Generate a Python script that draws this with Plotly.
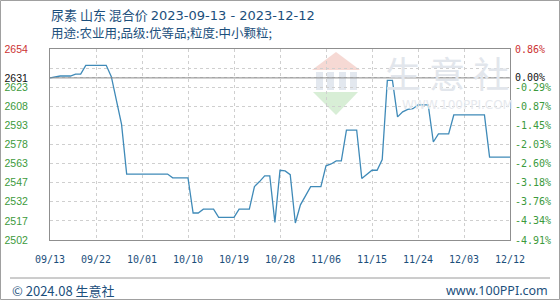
import plotly.graph_objects as go

# ---- data ----
dates = ["2023-09-13", "2023-09-15", "2023-09-17", "2023-09-18", "2023-09-19",
         "2023-09-20", "2023-09-24", "2023-09-25", "2023-09-27", "2023-09-28",
         "2023-10-06", "2023-10-07", "2023-10-10", "2023-10-11", "2023-10-12",
         "2023-10-13", "2023-10-15", "2023-10-16", "2023-10-19", "2023-10-20",
         "2023-10-22", "2023-10-23", "2023-10-24", "2023-10-25", "2023-10-26",
         "2023-10-27", "2023-10-28", "2023-10-29", "2023-10-30", "2023-10-31",
         "2023-11-01", "2023-11-03", "2023-11-05", "2023-11-06", "2023-11-07",
         "2023-11-08", "2023-11-09", "2023-11-10", "2023-11-12", "2023-11-13",
         "2023-11-15", "2023-11-16", "2023-11-17", "2023-11-18", "2023-11-19",
         "2023-11-20", "2023-11-21", "2023-11-22", "2023-11-23", "2023-11-24",
         "2023-11-26", "2023-11-27", "2023-11-28", "2023-11-30", "2023-12-01",
         "2023-12-07", "2023-12-08", "2023-12-12"]
prices = [2631, 2632.5, 2632.5, 2634, 2634,
          2641, 2641, 2632, 2594, 2554.5,
          2554.5, 2551.5, 2551.5, 2523.5, 2523.5,
          2526.5, 2526.5, 2520, 2520, 2526.5,
          2526.5, 2544.5, 2548.5, 2553, 2553,
          2516, 2557.5, 2557, 2554, 2515.5,
          2530, 2544.5, 2544.5, 2561, 2562.5,
          2565, 2565, 2589.5, 2589.5, 2551,
          2557.5, 2557.5, 2566, 2629, 2629,
          2600, 2604, 2606, 2606.5, 2609.5,
          2609.5, 2580, 2586.5, 2586.5, 2601.5,
          2601.5, 2568, 2568]

base_price = 2631
y_min, y_max = 2502, 2654
y_grid = [2502, 2517.2, 2532.4, 2547.6, 2562.8, 2578, 2593.2, 2608.4, 2623.6, 2638.8, 2654]
left_labels = ["2502", "2517", "2532", "2547", "2563", "2578", "2593", "2608", "2623", "", "2654"]
right_labels = ["-4.91%", "-4.34%", "-3.76%", "-3.18%", "-2.60%", "-2.03%", "-1.45%",
                "-0.87%", "-0.29%", "", "0.86%"]
base_left_label = "2631"
base_right_label = "0.00%"

x_ticks = ["2023-09-13", "2023-09-22", "2023-10-01", "2023-10-10", "2023-10-19",
           "2023-10-28", "2023-11-06", "2023-11-15", "2023-11-24", "2023-12-03",
           "2023-12-12"]
x_labels = ["09/13", "09/22", "10/01", "10/10", "10/19", "10/28", "11/06",
            "11/15", "11/24", "12/03", "12/12"]

title_cn = "尿素 山东 混合价 "
title_dates = "2023-09-13 - 2023-12-12"
title2 = "用途:农业用;品级:优等品;粒度:中小颗粒;"
footer_left = "© 2024.08 生意社"
footer_right = "www.100PPI.com"

# ---- layout constants ----
W, H = 560, 300
ML, MR, MT, MB = 50, 50, 49, 60
PW, PH = W - ML - MR, H - MT - MB

RED, GREEN, BLACK = "#cc3333", "#3c9a3c", "#111111"
TXT = "#1c4f7c"


def px(x):
    return (x - ML) / PW


def py(y):
    return (H - MB - y) / PH


def colored(lbls, top_color):
    out = []
    for i, t in enumerate(lbls):
        c = top_color if i == len(lbls) - 1 else GREEN
        out.append(f"<span style='color:{c}'>{t}</span>" if t else "")
    return out


tickvals = y_grid + [base_price]
lt = colored(left_labels, RED) + [f"<span style='color:{BLACK}'>{base_left_label}</span>"]
rt = colored(right_labels, RED) + [f"<span style='color:{BLACK}'>{base_right_label}</span>"]

fig = go.Figure()
fig.add_trace(go.Scatter(x=dates, y=prices, mode="lines",
                         line=dict(color="#3f8ab8", width=1.3),
                         hoverinfo="skip", showlegend=False))
fig.add_trace(go.Scatter(x=[dates[0]], y=[prices[0]], yaxis="y2", mode="markers",
                         marker=dict(opacity=0), hoverinfo="skip", showlegend=False))

grid = dict(showgrid=True, gridcolor="#cfcfcf", griddash="dot", gridwidth=1)

fig.update_layout(
    width=W, height=H,
    margin=dict(l=ML, r=MR, t=MT, b=MB, autoexpand=False),
    paper_bgcolor="white", plot_bgcolor="white",
    font=dict(family="DejaVu Sans Mono", size=10, color=TXT),
    xaxis=dict(type="date", range=[x_ticks[0], x_ticks[-1]],
               tickvals=x_ticks, ticktext=x_labels, automargin=False,
               ticks="outside", ticklen=10, tickcolor="rgba(0,0,0,0)",
               tickfont=dict(family="DejaVu Sans Mono", size=10, color=TXT),
               showline=True, linecolor="#8f8f8f", mirror=True, zeroline=False,
               **grid),
    yaxis=dict(range=[y_min, y_max], tickvals=tickvals, ticktext=lt, automargin=False,
               ticks="outside", ticklen=19, tickcolor="rgba(0,0,0,0)",
               tickfont=dict(family="Liberation Sans", size=10.5),
               showline=True, linecolor="#8f8f8f", mirror=True, zeroline=False,
               **grid),
    yaxis2=dict(range=[y_min, y_max], tickvals=tickvals, ticktext=rt, automargin=False,
                overlaying="y", side="right",
                ticks="outside", ticklen=2, tickcolor="rgba(0,0,0,0)",
                tickfont=dict(family="DejaVu Sans Mono", size=10),
                showgrid=False, zeroline=False, showline=False),
)

# base price reference line (solid)
fig.add_shape(type="line", xref="paper", yref="y", x0=0, x1=1,
              y0=base_price, y1=base_price, line=dict(color="#8a8a8a", width=1))

# watermark logo
fig.add_shape(type="path", xref="paper", yref="paper", layer="below",
              path=f"M {px(312)},{py(70)} L {px(336)},{py(52)} L {px(360)},{py(70)} Z",
              fillcolor="#f6d9d4", line=dict(width=0))
for xa, xb in [(316, 323), (327, 334), (339, 346), (350, 357)]:
    fig.add_shape(type="rect", xref="paper", yref="paper", layer="below",
                  x0=px(xa), x1=px(xb), y0=py(90), y1=py(72),
                  fillcolor="#e3e8ef", line=dict(width=0))
fig.add_shape(type="path", xref="paper", yref="paper", layer="below",
              path=f"M {px(313)},{py(92)} L {px(358)},{py(92)} L {px(336)},{py(115)} Z",
              fillcolor="#d8eed6", line=dict(width=0))
fig.add_annotation(text="生 意 社", xref="paper", yref="paper", x=px(447), y=py(72),
                   showarrow=False, font=dict(family="Noto Sans CJK SC", size=36, color="#e2e6ec"),
                   xanchor="center", yanchor="middle")
fig.add_annotation(text="WWW.100PPI.COM", xref="paper", yref="paper", x=px(457), y=py(105),
                   showarrow=False, font=dict(family="DejaVu Sans", size=12, color="#e6e9ee"),
                   xanchor="center", yanchor="middle")

# titles
fig.add_annotation(text=title_cn + f"<span style='font-family:DejaVu Sans'>{title_dates}</span>",
                   xref="paper", yref="paper", x=px(49), y=py(15),
                   showarrow=False, xanchor="left", yanchor="middle",
                   font=dict(family="Noto Sans CJK SC", size=13, color=TXT))
fig.add_annotation(text=title2, xref="paper", yref="paper", x=px(49), y=py(33),
                   showarrow=False, xanchor="left", yanchor="middle",
                   font=dict(family="Noto Sans CJK SC", size=12.5, color=TXT))

# footer
fig.add_shape(type="line", xref="paper", yref="paper", x0=px(10), x1=px(550),
              y0=py(278), y1=py(278), line=dict(color="#9a9a9a", width=1))
fig.add_annotation(text=footer_left, xref="paper", yref="paper", x=px(10), y=py(290),
                   showarrow=False, xanchor="left", yanchor="middle",
                   font=dict(family="Noto Sans CJK SC", size=13, color=TXT))
fig.add_annotation(text=footer_right, xref="paper", yref="paper", x=px(550), y=py(290),
                   showarrow=False, xanchor="right", yanchor="middle",
                   font=dict(family="Noto Sans", size=12.5, color=TXT))

# outer frame
fig.add_shape(type="rect", xref="paper", yref="paper",
              x0=px(0.5), x1=px(559.5), y0=py(299.5), y1=py(0.5),
              line=dict(color="#a0a0a0", width=1))

fig.write_html("out.html")
